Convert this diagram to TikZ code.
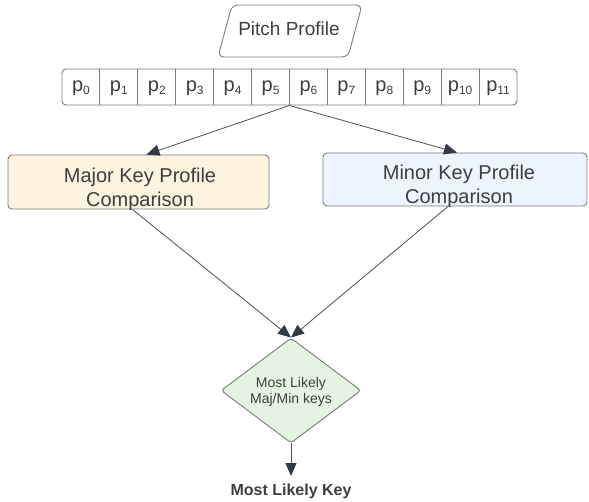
\documentclass[tikz,border=0pt]{standalone}
\usepackage{fontspec}
\setmainfont{Liberation Sans}
\usetikzlibrary{shapes.geometric,arrows.meta}
\definecolor{ink}{HTML}{3E3E3E}
\definecolor{edge}{HTML}{7C7C7C}
\definecolor{wire}{HTML}{4F4F4F}
\definecolor{head}{HTML}{343A44}
\definecolor{majfill}{HTML}{FDF3DF}
\definecolor{minfill}{HTML}{EEF4FD}
\definecolor{decfill}{HTML}{E5F3E2}
\newcommand{\pc}[1]{p{\fontsize{12}{12}\selectfont\raisebox{-2.6pt}{#1}}}
\begin{document}
\begin{tikzpicture}[x=1pt,y=-1pt,
  txt/.style={text=ink, inner sep=0, anchor=base},
  big/.style={txt, font=\fontsize{20}{24}\selectfont},
  box/.style={draw=edge, line width=0.9pt, rounded corners=4pt, inner sep=0},
  link/.style={draw=wire, line width=0.8pt,
    -{Triangle[length=13pt,width=11pt,color=head]}}]
\useasboundingbox (0,0) rectangle (589,502);

% input parallelogram
\draw[draw=edge, line width=0.9pt, rounded corners=6pt]
  (218,57) -- (232,5) -- (362,5) -- (348,57) -- cycle;
\node[txt, font=\fontsize{19}{23}\selectfont] (pitch) at (289,35.5) {Pitch Profile};

% twelve-bin pitch-class array
\node[box, minimum width=455pt, minimum height=36pt] (arr) at (289.5,87) {};
\foreach \i in {0,...,11}{
  \node[big] (p\i) at ({62+37.917*(\i+0.5)},91.7) {\pc{\i}};
}
\foreach \i in {1,...,11}{
  \draw[draw=edge, line width=0.9pt] ({62+37.917*\i},69) -- ({62+37.917*\i},105);
}

% profile comparison boxes (base anchor sits on the last line)
\node[box, fill=majfill, minimum width=261pt, minimum height=54pt] (maj) at (138.5,182) {};
\node[big, align=center] (majlbl) at (140,207) {Major Key Profile\\Comparison};
\node[box, fill=minfill, minimum width=264pt, minimum height=53pt] (min) at (455,179.5) {};
\node[big, align=center] (minlbl) at (459,204) {Minor Key Profile\\Comparison};

% decision
\node[diamond, draw=edge, line width=0.9pt, fill=decfill, rounded corners=3pt,
      inner sep=0, minimum width=140pt, minimum height=105pt, shape aspect=1.333]
      (dec) at (291,390.5) {};
\node[txt, align=center, font=\fontsize{14}{17}\selectfont] (declbl) at (291,404)
      {Most Likely\\Maj/Min keys};

% result
\node[txt, font=\bfseries\fontsize{16}{19}\selectfont] (key) at (291,495) {Most Likely Key};

% connectors
\draw[link] (arr.south) -- ([xshift=8pt]maj.north);
\draw[link] (arr.south) -- ([xshift=2pt]min.north);
\draw[link] ([xshift=-6pt]maj.south) -- (dec.north);
\draw[link] ([xshift=-7pt]min.south) -- (dec.north);
\draw[link] (dec.south) -- (291,476);
\end{tikzpicture}
\end{document}
